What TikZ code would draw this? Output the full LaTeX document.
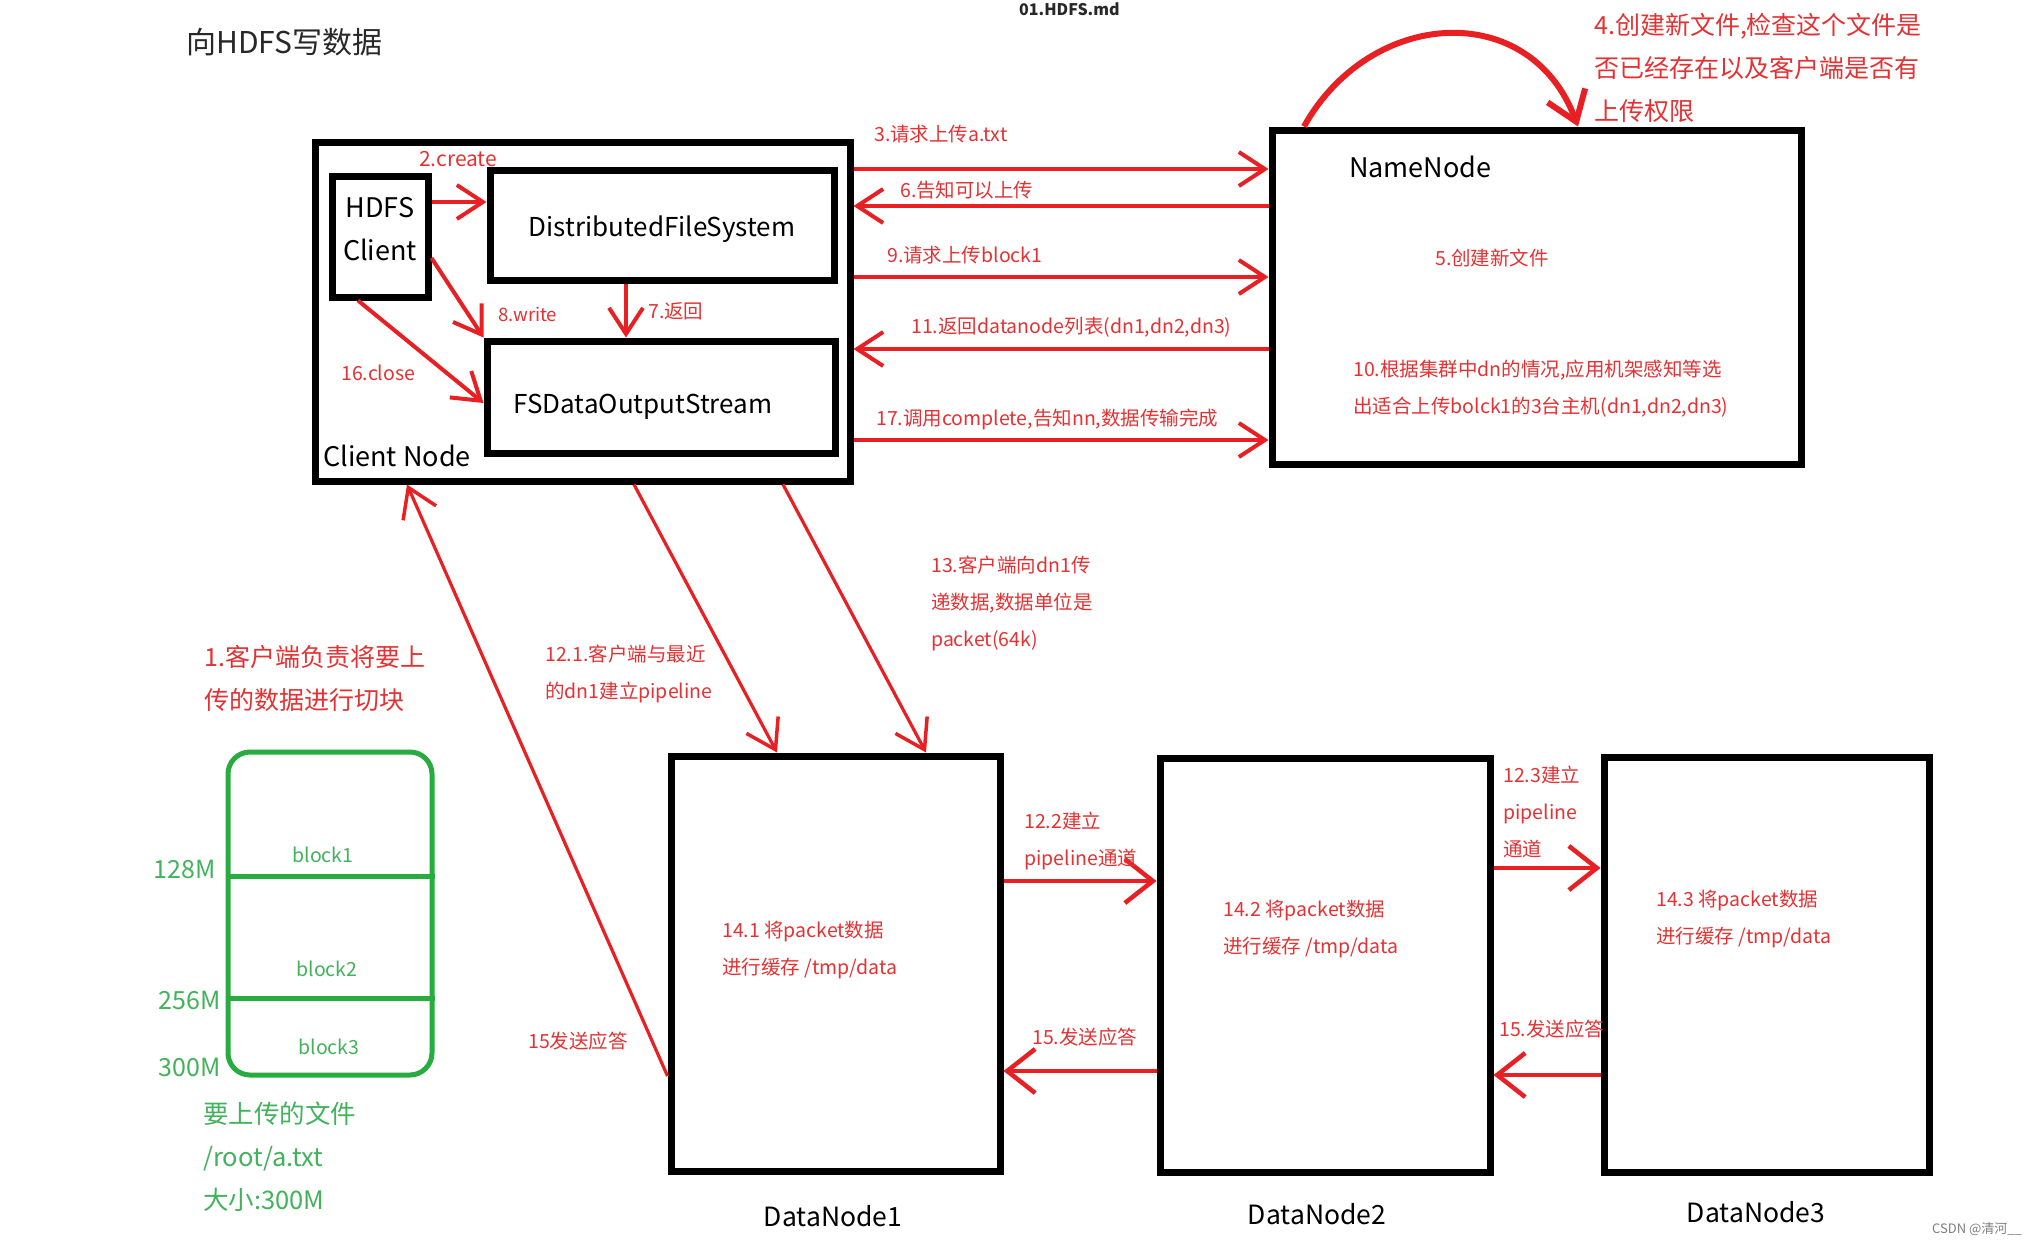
\documentclass[tikz,border=0pt]{standalone}
\usepackage{fontspec}
\setmainfont{Noto Sans CJK SC}
\usetikzlibrary{arrows.meta,calc}
\definecolor{arrred}{RGB}{232,32,36}
\definecolor{txtred}{RGB}{228,50,52}
\definecolor{fgreen}{RGB}{40,172,66}
\definecolor{tgreen}{RGB}{66,178,92}
\definecolor{titlegray}{RGB}{40,40,40}
\newcommand{\myfs}[2]{\fontsize{#1}{#2}\selectfont}
\newcommand{\shiftbox}[2]{\raisebox{#1}[\height][\depth]{#2}}
\begin{document}
\begin{tikzpicture}[x=1pt,y=-1pt,
  box/.style={draw=black,line width=7pt,rectangle,inner sep=0pt,font=\myfs{26}{43}},
  arr/.style={draw=arrred,line width=4pt,-{Straight Barb[length=26pt,width=34pt,line width=4pt]}},
  thinarr/.style={draw=arrred,line width=3.2pt,-{Straight Barb[length=28pt,width=36pt,line width=3.5pt]}},
  bigarr/.style={draw=arrred,line width=4.5pt,-{Straight Barb[length=28pt,width=44pt,line width=4.5pt]}},
  lbl/.style={text=txtred,font=\myfs{19.5}{37},inner sep=0pt,anchor=west,align=left},
  biglbl/.style={text=txtred,font=\myfs{25}{43},inner sep=0pt,anchor=west,align=left},
  blk/.style={text=black,font=\myfs{27}{43},inner sep=0pt},
  glbl/.style={text=tgreen,font=\myfs{19.5}{23},inner sep=0pt},
  gbig/.style={text=tgreen,font=\myfs{25.5}{43},inner sep=0pt,align=left}
]
\useasboundingbox[fill=white] (0,0) rectangle (2040,1245);

% title and screenshot artefacts
\node[text=titlegray,font=\myfs{30}{34},inner sep=0pt,anchor=west] (title) at (186,42) {向HDFS写数据};
\node[text=titlegray,font=\myfs{16}{19}\bfseries,inner sep=0pt,anchor=west] (mdname) at (1019,9) {01.HDFS.md};
\node[text=gray,font=\myfs{13}{15},inner sep=0pt,anchor=west] (mark) at (1932,1229) {CSDN @清河\_\_};

% client node
\node[box,minimum width=535pt,minimum height=339pt] (clientnode) at (582.5,311.5) {};
\node[blk,anchor=west] (clientlbl) at (323,456) {Client Node};
\node[box,minimum width=96pt,minimum height=121pt,font=\myfs{27}{43}] (hdfsclient) at (380,236.5)
  {\shiftbox{6pt}{\begin{tabular}{@{}c@{}}HDFS\\Client\end{tabular}}};
\node[box,minimum width=344pt,minimum height=110pt] (dfs) at (662,225) {\shiftbox{-4pt}{DistributedFileSystem}};
\node[box,minimum width=348pt,minimum height=112pt] (fsdos) at (661,397) {\hspace*{-36pt}\shiftbox{-10pt}{FSDataOutputStream}};

% name node
\node[box,minimum width=529pt,minimum height=334pt] (namenode) at (1536.5,297) {};
\node[blk,anchor=west] (nnlbl) at (1349,167) {NameNode};
\node[lbl] (l5) at (1435,258) {5.创建新文件};
\node[lbl] (l10) at (1353,389) {10.根据集群中dn的情况,应用机架感知等选\\出适合上传bolck1的3台主机(dn1,dn2,dn3)};
\node[biglbl] (l4) at (1594,68) {4.创建新文件,检查这个文件是\\否已经存在以及客户端是否有\\上传权限};

% data nodes
\node[box,minimum width=329pt,minimum height=415pt] (dn1) at (835.5,963.5) {};
\node[box,minimum width=330pt,minimum height=414pt] (dn2) at (1325,965) {};
\node[box,minimum width=325pt,minimum height=415pt] (dn3) at (1766.5,964.5) {};
\node[blk,font=\myfs{26.5}{30}] (dn1lbl) at (833,1216) {DataNode1};
\node[blk,font=\myfs{26.5}{30}] (dn2lbl) at (1317,1214) {DataNode2};
\node[blk,font=\myfs{26.5}{30}] (dn3lbl) at (1756,1212) {DataNode3};
\node[lbl] (l141) at (722,950) {14.1 将packet数据\\进行缓存 /tmp/data};
\node[lbl] (l142) at (1223,929) {14.2 将packet数据\\进行缓存 /tmp/data};
\node[lbl] (l143) at (1656,919) {14.3 将packet数据\\进行缓存 /tmp/data};

% file to upload
\node[draw=fgreen,line width=5pt,rounded corners=22pt,minimum width=204pt,minimum height=323pt,inner sep=0pt] (file) at (330,913.5) {};
\draw[fgreen,line width=5pt] (file.west |- 0,876) -- (file.east |- 0,876);
\draw[fgreen,line width=5pt] (file.west |- 0,998) -- (file.east |- 0,998);
\node[glbl] (b1) at (323,855) {block1};
\node[glbl] (b2) at (327,969) {block2};
\node[glbl] (b3) at (329,1047) {block3};
\node[glbl,font=\myfs{25}{28},anchor=east] (m128) at (216,869) {128M};
\node[glbl,font=\myfs{25}{28},anchor=east] (m256) at (221,1000) {256M};
\node[glbl,font=\myfs{25}{28},anchor=east] (m300) at (221,1067) {300M};
\node[gbig,anchor=west] (fileinfo) at (203,1157) {要上传的文件\\/root/a.txt\\大小:300M};
\node[biglbl] (l1) at (204,678) {1.客户端负责将要上\\传的数据进行切块};

% arrows inside client node
\draw[arr] (hdfsclient.east |- 0,202) -- (dfs.west |- 0,202);
\node[lbl,font=\myfs{21}{24}] (l2) at (419,159) {2.create};
\draw[arr] (dfs.south -| 626,0) -- (fsdos.north -| 626,0);
\node[lbl] (l7) at (648,311) {7.返回};
\draw[arr] (hdfsclient.east |- 0,258) -- (fsdos.north west);
\node[lbl,font=\myfs{18.5}{22}] (l8) at (498,314) {8.write};
\draw[arr] (hdfsclient.south -| 358,0) -- (fsdos.west |- 0,403);
\node[lbl] (l16) at (341,373) {16.close};

% client <-> namenode
\draw[arr] (clientnode.east |- 0,169) -- (namenode.west |- 0,169);
\node[lbl] (l3) at (874,134) {3.请求上传a.txt};
\draw[arr] (namenode.west |- 0,206) -- (clientnode.east |- 0,206);
\node[lbl] (l6) at (900,190) {6.告知可以上传};
\draw[arr] (clientnode.east |- 0,277) -- (namenode.west |- 0,277);
\node[lbl] (l9) at (887,255) {9.请求上传block1};
\draw[arr] (namenode.west |- 0,349) -- (clientnode.east |- 0,349);
\node[lbl] (l11) at (911,327) {11.返回datanode列表(dn1,dn2,dn3)};
\draw[arr] (clientnode.east |- 0,440) -- (namenode.west |- 0,440);
\node[lbl] (l17) at (876,419) {17.调用complete,告知nn,数据传输完成};

% namenode self arrow
\draw[draw=arrred,line width=6pt,-{Straight Barb[length=28pt,width=40pt,line width=6pt]}]
  (namenode.north -| 1304,0) .. controls (1370,8) and (1530,-2) .. (namenode.north -| 1578,0);

% client -> dn1
\draw[thinarr] (clientnode.south -| 634,0) -- (dn1.north -| 777,0);
\node[lbl] (l121) at (545,674) {12.1.客户端与最近\\的dn1建立pipeline};
\draw[thinarr] (clientnode.south -| 783,0) -- (dn1.north -| 926,0);
\node[lbl] (l13) at (931,603) {13.客户端向dn1传\\递数据,数据单位是\\packet(64k)};
\draw[thinarr] (dn1.west |- 0,1076) -- (clientnode.south -| 407,0);
\node[lbl] (l15a) at (528,1041) {15发送应答};

% pipeline
\draw[bigarr] (dn1.east |- 0,881) -- (dn2.west |- 0,881);
\node[lbl] (l122) at (1024,841) {12.2建立\\pipeline通道};
\draw[bigarr] (dn2.west |- 0,1071) -- (dn1.east |- 0,1071);
\node[lbl] (l15b) at (1032,1037) {15.发送应答};
\draw[bigarr] (dn2.east |- 0,868) -- (dn3.west |- 0,868);
\node[lbl] (l123) at (1503,812) {12.3建立\\pipeline\\通道};
\draw[bigarr] (dn3.west |- 0,1075) -- (dn2.east |- 0,1075);
\node[lbl] (l15c) at (1499,1029) {15.发送应答};
\end{tikzpicture}
\end{document}
